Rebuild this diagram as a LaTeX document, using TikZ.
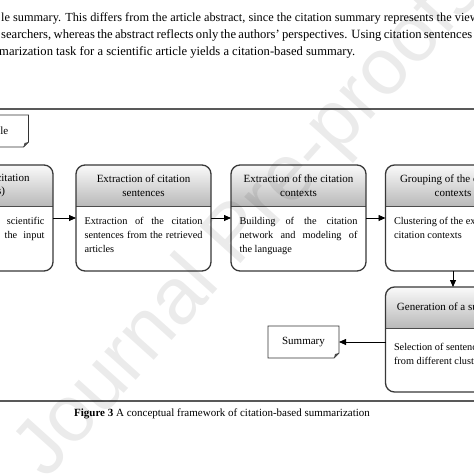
\documentclass[tikz,border=0pt]{standalone}
\usepackage{fontspec}
\setmainfont{Liberation Serif}
\newfontfamily\markfont{Liberation Sans}
\usetikzlibrary{arrows.meta,positioning}
\hyphenpenalty=10000
\exhyphenpenalty=10000

\begin{document}
\begin{tikzpicture}[x=1pt, y=-1pt,
        stage/.style={rectangle, minimum width=135pt, minimum height=106pt, inner sep=0pt, outer sep=0pt},
        title/.style={align=center, inner sep=0pt, font=\fontsize{11}{13.5}\selectfont},
        note/.style={align=justify, text width=118pt, inner sep=0pt, anchor=north, font=\fontsize{10.3}{14}\selectfont},
        doc/.style={rectangle, minimum width=71pt, minimum height=32pt, inner sep=0pt, outer sep=0pt, font=\fontsize{11}{13}\selectfont},
        para/.style={anchor=base west, inner sep=0pt, font=\fontsize{12.6}{17}\selectfont},
        rule/.style={black!65, line width=1.4pt},
        arrow/.style={-{Triangle[length=7pt,width=6pt]}, line width=0.8pt}
    ]
        \useasboundingbox (0,0) rectangle (474,474);

        % page text
        \node[para, font=\fontsize{12.3}{17}\selectfont] (line1) at (1,21) {le summary. This differs from the article abstract, since the citation summary represents the views};
        \node[para] (line2) at (1,38) {\makebox[471pt][s]{searchers, whereas the abstract reflects only the authors' perspectives. Using citation sentences}};
        \node[para] (line3) at (-1,55) {marization task for a scientific article yields a citation-based summary.};
        \draw[rule] (0,109) -- (474,109);
        \draw[rule] (0,401) -- (474,401);
        \node[font=\fontsize{11}{12}\selectfont] (caption) at (222,414) {\textbf{Figure 3} A conceptual framework of citation-based summarization};

        % stages
        \node[stage] (retr) at (-14.5,218) {};
        \node[stage] (extr) at (143.5,218) {};
        \node[stage] (ctx) at (298.5,218) {};
        \node[stage] (group) at (453,218) {};
        \node[stage, minimum height=105pt] (gen) at (453,339.5) {};

        \foreach \s in {retr,extr,ctx,group,gen} {
            \begin{scope}
                \clip[rounded corners=9pt] (\s.north west) rectangle (\s.south east);
                \shade[top color=gray!4, bottom color=gray!55] (\s.north west) rectangle ([yshift=-41pt]\s.north east);
                \draw[black!70, line width=1pt] ([yshift=-41pt]\s.north west) -- ([yshift=-41pt]\s.north east);
            \end{scope}
            \draw[black!78, line width=1.3pt, rounded corners=9pt] (\s.north west) rectangle (\s.south east);
        }

        \node[title] (retr-t) at ([yshift=-20.5pt]retr.north) {Retrieval of citation\\(articles)};
        \node[title] (extr-t) at ([yshift=-20.5pt]extr.north) {Extraction of citation\\sentences};
        \node[title] (ctx-t) at ([yshift=-20.5pt]ctx.north) {Extraction of the citation\\contexts};
        \node[title] (group-t) at ([yshift=-20.5pt]group.north) {Grouping of the citation\\contexts};
        \node[title] (gen-t) at ([yshift=-20.5pt]gen.north) {Generation of a summary};

        \node[note] (retr-b) at ([yshift=-52pt]retr.north) {Retrieval of the scientific\linebreak articles that cite the input\linebreak article};
        \node[note] (extr-b) at ([yshift=-52pt]extr.north) {Extraction of the citation\linebreak sentences from the retrieved\linebreak articles};
        \node[note] (ctx-b) at ([yshift=-52pt]ctx.north) {Building of the citation\linebreak network and modeling of\linebreak the language};
        \node[note] (group-b) at ([yshift=-52pt]group.north) {Clustering of the extracted\\citation contexts};
        \node[note] (gen-b) at ([yshift=-56pt]gen.north) {Selection of sentences\\from different clusters};

        % documents
        \node[doc] (article) at (-7,131) {Article};
        \node[doc] (summary) at (303.5,342) {Summary};
        \foreach \d in {article,summary} {
            \draw[black!80, line width=0.9pt] (\d.north west) -- (\d.north east) -- ([yshift=5pt]\d.south east) -- ([xshift=-5pt]\d.south east) -- (\d.south west) -- cycle;
            \fill[black!70] ([yshift=5pt]\d.south east) -- ([xshift=-5pt]\d.south east) -- ([xshift=-4pt,yshift=4pt]\d.south east) -- cycle;
        }

        \draw[arrow] (retr) -- (extr);
        \draw[arrow] (extr) -- (ctx);
        \draw[arrow] (ctx) -- (group);
        \draw[arrow] (group) -- (gen);
        \draw[arrow] (gen.west |- summary) -- (summary);

        % watermark
        \node[font=\markfont\fontsize{80}{80}\selectfont, text=black, opacity=0.08, rotate=48] (mark) at (251,222) {Journal Pre-proofs};
    \end{tikzpicture}
\end{document}
